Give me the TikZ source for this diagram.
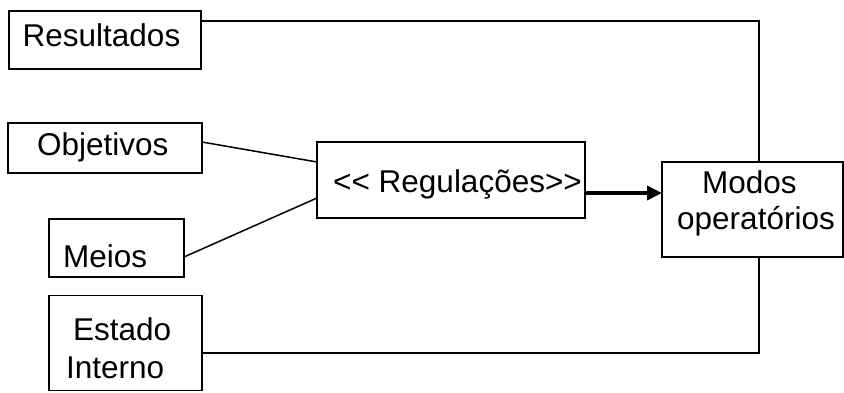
\documentclass[tikz,border=0pt]{standalone}
\usepackage{fontspec}
\setmainfont{Liberation Sans}
\usetikzlibrary{arrows.meta,calc}
\begin{document}
\begin{tikzpicture}[x=1pt,y=-1pt,
  box/.style={draw,line width=1.5pt,inner sep=0pt,outer sep=0pt,rectangle},
  lbl/.style={anchor=base west,inner sep=0pt,font=\fontsize{31.5}{31.5}\selectfont},
  conn/.style={line width=1.5pt},
  thickarrow/.style={line width=3.8pt,-{Triangle[length=15pt,width=14pt]}}]
\useasboundingbox (0,0) rectangle (844,392);
% boxes
\node[box,minimum width=192pt,minimum height=58pt] (res) at (105,40) {};
\node[box,minimum width=194pt,minimum height=50pt] (obj) at (105,148) {};
\node[box,minimum width=268pt,minimum height=76pt] (reg) at (451,180) {};
\node[box,minimum width=181pt,minimum height=95pt] (mod) at (752.5,209.5) {};
\node[box,minimum width=135pt,minimum height=58pt] (mei) at (116.5,248) {};
\node[box,minimum width=153pt,minimum height=95pt] (est) at (125.5,343) {};
% texts
\node[lbl] (tres) at (22.5,46) {Resultados};
\node[lbl] (tobj) at (37,155) {Objetivos};
\node[lbl] (treg) at (333,192) {{<}{<} Regulações{>}{>}};
\node[lbl] (tmod1) at (702,193) {Modos};
\node[lbl] (tmod2) at (677,229) {operatórios};
\node[lbl] (tmei) at (63,267) {Meios};
\node[lbl] (test1) at (73,340) {Estado};
\node[lbl] (test2) at (66,378) {Interno};
% connectors
\coordinate (c1) at ([yshift=-10pt]res.north east);
\coordinate (m1) at ([xshift=6.5pt]mod.north);
\draw[conn] (c1) -| (m1);
\draw[conn] ([yshift=6pt]obj.east) -- ([yshift=18pt]reg.west);
\draw[conn] ([yshift=-9pt]mei.east) -- ([yshift=-18pt]reg.west);
\coordinate (ar) at ([yshift=-13pt]reg.east);
\draw[thickarrow] (ar) -- (ar -| mod.west);
\coordinate (c2) at ([yshift=-10pt]est.east);
\coordinate (m2) at ([xshift=6.5pt]mod.south);
\draw[conn] (c2) -| (m2);
\end{tikzpicture}
\end{document}
